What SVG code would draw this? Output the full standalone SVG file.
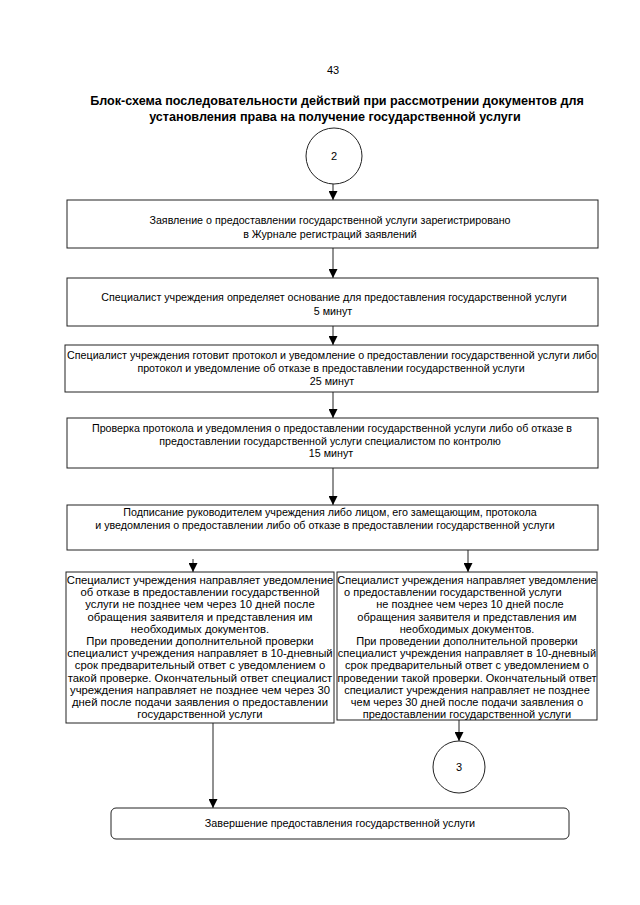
<svg xmlns="http://www.w3.org/2000/svg" width="640" height="905" viewBox="0 0 640 905">
<style>
text{font-family:"Liberation Sans",Arial,sans-serif;fill:#000}
.t{font-size:10.7px;text-anchor:middle}
.s{font-size:11.3px;text-anchor:middle}
.r{font-size:11px;text-anchor:middle}
.h{font-size:12.6px;font-weight:bold;text-anchor:middle}
.box{fill:#fff;stroke:#222;stroke-width:1}
.ln{stroke:#222;stroke-width:1;fill:none}
</style>
<defs>
<marker id="ah" markerWidth="10" markerHeight="9" refX="9" refY="4.5" orient="auto" markerUnits="userSpaceOnUse">
<path d="M0,0 L9,4.5 L0,9 Z" fill="#000"/>
</marker>
</defs>
<rect width="640" height="905" fill="#fff"/>
<text class="t" x="333" y="74" style="font-size:11px">43</text>
<text class="h" x="337" y="105">Блок-схема последовательности действий при рассмотрении документов для</text>
<text class="h" x="335" y="121">установления права на получение государственной услуги</text>

<g id="connectors">
<line class="ln" x1="333" y1="184" x2="333" y2="200" marker-end="url(#ah)"/>
<line class="ln" x1="333" y1="248" x2="333" y2="278" marker-end="url(#ah)"/>
<line class="ln" x1="333" y1="326" x2="333" y2="345" marker-end="url(#ah)"/>
<line class="ln" x1="333" y1="392" x2="333" y2="418" marker-end="url(#ah)"/>
<line class="ln" x1="333" y1="468" x2="333" y2="505" marker-end="url(#ah)"/>
<line class="ln" x1="193" y1="559" x2="193" y2="572" marker-end="url(#ah)"/>
<line class="ln" x1="468" y1="550" x2="468" y2="572" marker-end="url(#ah)"/>
<line class="ln" x1="459" y1="720" x2="459" y2="741" marker-end="url(#ah)"/>
<line class="ln" x1="213" y1="723" x2="213" y2="808" marker-end="url(#ah)"/>
</g>

<g id="n2">
<circle class="box" cx="334" cy="156" r="28"/>
<text class="t" x="334" y="160" style="font-size:11px">2</text>
</g>

<g id="b1">
<rect class="box" x="67" y="200" width="531" height="48"/>
<text class="t" x="330" y="224">Заявление о предоставлении государственной услуги зарегистрировано</text>
<text class="t" x="330" y="238">в Журнале регистраций заявлений</text>
</g>

<g id="b2">
<rect class="box" x="67" y="278" width="531" height="48"/>
<text class="t" x="334" y="301">Специалист учреждения определяет основание для предоставления государственной услуги</text>
<text class="t" x="333" y="315">5 минут</text>
</g>

<g id="b3">
<rect class="box" x="65" y="345" width="533" height="47"/>
<text class="t" x="332" y="359">Специалист учреждения готовит протокол и уведомление о предоставлении государственной услуги либо</text>
<text class="t" x="331" y="372">протокол и уведомление об отказе в предоставлении государственной услуги</text>
<text class="t" x="332" y="385">25 минут</text>
</g>

<g id="b4">
<rect class="box" x="67" y="418" width="531" height="50"/>
<text class="t" x="332" y="432">Проверка протокола и уведомления о предоставлении государственной услуги либо об отказе в</text>
<text class="t" x="330" y="445">предоставлении государственной услуги специалистом по контролю</text>
<text class="t" x="331" y="457">15 минут</text>
</g>

<g id="b5">
<rect class="box" x="67" y="505" width="531" height="45"/>
<text class="t" x="330" y="516">Подписание руководителем учреждения либо лицом, его замещающим, протокола</text>
<text class="t" x="325" y="529">и уведомления о предоставлении либо об отказе в предоставлении государственной услуги</text>
</g>

<g id="bl">
<rect class="box" x="66" y="572" width="268" height="151"/>
<text class="s" x="200" y="584">Специалист учреждения направляет уведомление</text>
<text class="s" x="200" y="596.2">об отказе в предоставлении государственной</text>
<text class="s" x="200" y="608.4">услуги не позднее чем через 10 дней после</text>
<text class="s" x="200" y="620.6">обращения заявителя и представления им</text>
<text class="s" x="200" y="632.8">необходимых документов.</text>
<text class="s" x="200" y="645">При проведении дополнительной проверки</text>
<text class="s" x="200" y="657.2">специалист учреждения направляет в 10-дневный</text>
<text class="s" x="200" y="669.4">срок предварительный ответ с уведомлением о</text>
<text class="s" x="200" y="681.6">такой проверке. Окончательный ответ специалист</text>
<text class="s" x="200" y="693.8">учреждения направляет не позднее чем через 30</text>
<text class="s" x="200" y="706">дней после подачи заявления о предоставлении</text>
<text class="s" x="200" y="718.2">государственной услуги</text>
</g>

<g id="br">
<rect class="box" x="337" y="572" width="260" height="148"/>
<text class="r" x="467" y="584">Специалист учреждения направляет уведомление</text>
<text class="r" x="344" y="596.2" style="text-anchor:start">о предоставлении государственной услуги</text>
<text class="r" x="470" y="608.4">не позднее чем через 10 дней после</text>
<text class="r" x="467" y="620.6">обращения заявителя и представления им</text>
<text class="r" x="467" y="632.8">необходимых документов.</text>
<text class="r" x="467" y="645">При проведении дополнительной проверки</text>
<text class="r" x="467" y="657.2">специалист учреждения направляет в 10-дневный</text>
<text class="r" x="467" y="669.4">срок предварительный ответ с уведомлением о</text>
<text class="r" x="467" y="681.6">проведении такой проверки. Окончательный ответ</text>
<text class="r" x="467" y="693.8">специалист учреждения направляет не позднее</text>
<text class="r" x="467" y="706">чем через 30 дней после подачи заявления о</text>
<text class="r" x="467" y="718.2">предоставлении государственной услуги</text>
</g>

<g id="n3">
<circle class="box" cx="459" cy="767" r="26"/>
<text class="t" x="459" y="771" style="font-size:11px">3</text>
</g>

<g id="end">
<rect class="box" x="111" y="808" width="458" height="31" rx="5"/>
<text class="t" x="340" y="827" style="font-size:10.8px">Завершение предоставления государственной услуги</text>
</g>
</svg>
